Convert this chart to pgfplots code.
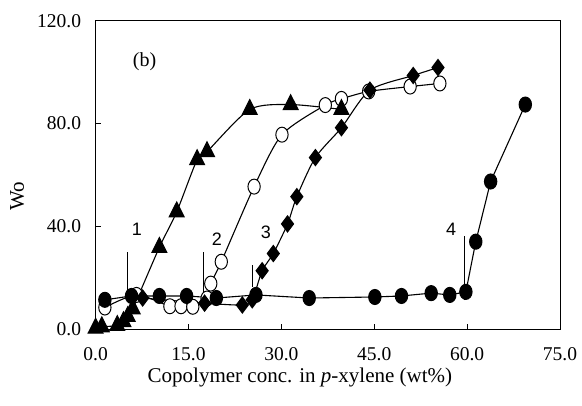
\documentclass[border=0pt]{standalone}
\usepackage{fontspec}
\setmainfont{Liberation Serif}
\newfontfamily\sansf{Liberation Sans}
\usepackage{pgfplots}
\pgfplotsset{compat=1.18}
\begin{document}
\begin{tikzpicture}
\useasboundingbox (-95.6pt,-75.6pt) rectangle (486.4pt,329.4pt);
\begin{axis}[
 at={(0,0)}, anchor=south west,
 width=464.4pt, height=308.7pt, scale only axis,
 xmin=0, xmax=75, ymin=0, ymax=120,
 xtick={0,15,30,45,60,75}, ytick={0,40,80,120},
 tick align=inside, xtick pos=bottom, ytick pos=left,
 major tick length=5pt,
 tick style={black, line width=0.6pt},
 axis line style={line width=0.8pt},
 clip=false,
 /pgf/number format/fixed,
 /pgf/number format/fixed zerofill,
 /pgf/number format/precision=1,
 /pgf/number format/assume math mode=true,
 xticklabel style={font=\fontsize{19.5}{19.5}\selectfont, yshift=-15pt},
 yticklabel style={font=\fontsize{19.5}{19.5}\selectfont, xshift=-11pt},
 xlabel={Copolymer conc. in \textit{p}-xylene (wt\%)},
 xlabel style={at={(axis description cs:0.44,-0.157)}, anchor=center, font=\fontsize{21}{21}\selectfont},
 ylabel={Wo},
 ylabel style={at={(axis description cs:-0.169,0.43)}, anchor=center, font=\fontsize{21}{21}\selectfont},
]
% series 2: open circles
\addplot[black, line width=1.1pt, smooth, tension=0.45, mark=*, mark size=7.5pt, mark options={fill=white, xscale=0.82, line width=1pt}]
coordinates {(1.5,8.5) (6.6,13.4) (12.0,9.0) (13.8,9.0) (15.7,8.8) (18.0,12.0) (18.6,17.8) (20.3,26.3) (25.6,55.5) (30.1,75.7) (37.1,87.2) (39.7,89.6) (44.1,92.5) (50.8,94.4) (55.6,95.6)};
% series 1: triangles
\addplot[black, line width=1.1pt, smooth, tension=0.45, mark=triangle*, mark size=8.5pt, mark options={fill=black, yscale=1.15}]
coordinates {(0,0.5) (1.0,1.0) (3.5,1.5) (4.5,3.0) (5.2,5.0) (6.0,8.0) (10.3,31.9) (13.1,45.7) (16.4,66.0) (18.0,69.1) (24.9,85.5) (31.5,87.4) (39.7,85.5)};
% series 3: diamonds
\addplot[black, line width=1.1pt, smooth, tension=0.45, mark=diamond*, mark size=8pt, mark options={fill=black}]
coordinates {(7.6,12.2) (17.6,10.2) (23.7,9.5) (25.3,11.5) (26.9,22.8) (28.7,29.5) (31.0,41.0) (32.5,51.6) (35.5,66.8) (39.7,78.4) (44.3,93.0) (51.3,98.7) (55.3,101.8)};
% series 4: filled circles
\addplot[black, line width=1.1pt, mark=*, mark size=7.5pt, mark options={fill=black, xscale=0.82}]
coordinates {(1.5,11.5) (5.8,13.0) (10.3,13.0) (14.7,13.0) (19.5,12.2) (25.9,13.4) (34.5,12.2) (45.1,12.6) (49.4,13.0) (54.2,14.1) (57.2,13.4) (59.8,14.6) (61.4,34.1) (63.8,57.5) (69.4,87.4)};
% marker lines
\addplot[black, line width=0.8pt] coordinates {(5.2,15.3) (5.2,30.2)};
\addplot[black, line width=0.8pt] coordinates {(17.4,14.0) (17.4,30.2)};
\addplot[black, line width=0.8pt] coordinates {(25.3,16.5) (25.3,25.1)};
\addplot[black, line width=0.8pt] coordinates {(59.6,11.4) (59.6,36.4)};
\node[font=\sansf\fontsize{18}{18}\selectfont] at (axis cs:6.65,39.1) {1};
\node[font=\sansf\fontsize{18}{18}\selectfont] at (axis cs:19.6,34.9) {2};
\node[font=\sansf\fontsize{18}{18}\selectfont] at (axis cs:27.5,37.9) {3};
\node[font=\sansf\fontsize{18}{18}\selectfont] at (axis cs:57.4,39.1) {4};
\node[font=\fontsize{20}{20}\selectfont] at (axis cs:7.9,104) {(b)};
\end{axis}
\end{tikzpicture}
\end{document}
